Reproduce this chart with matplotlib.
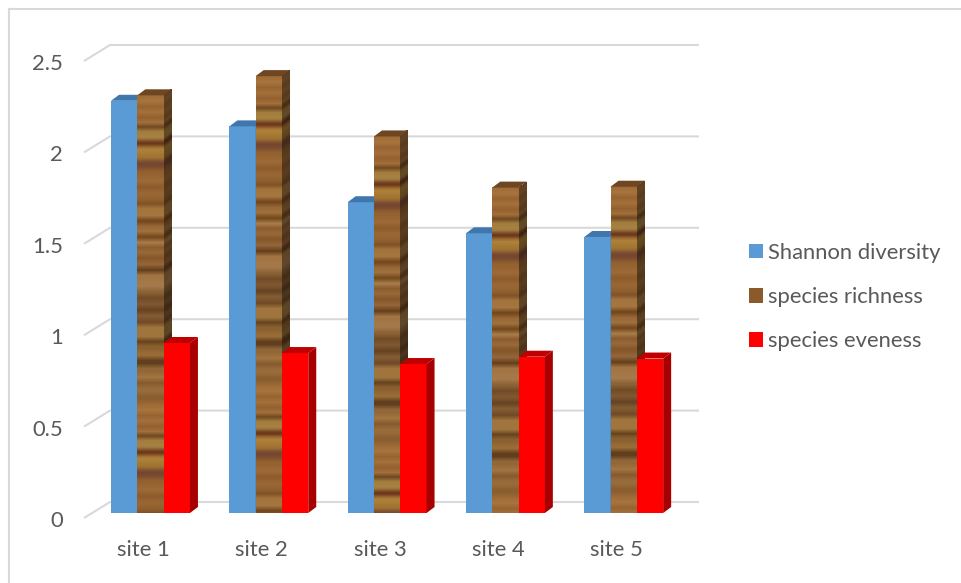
import numpy as np
import matplotlib
matplotlib.use("Agg")
import matplotlib.pyplot as plt
from matplotlib.colors import to_rgb
from matplotlib.lines import Line2D
from matplotlib.patches import Patch, Polygon
from matplotlib.transforms import ScaledTranslation

sites = ["site 1", "site 2", "site 3", "site 4", "site 5"]
shannon_diversity = [2.255, 2.115, 1.70, 1.53, 1.51]
species_richness = [2.285, 2.39, 2.06, 1.78, 1.785]
species_eveness = [0.93, 0.875, 0.815, 0.855, 0.845]
y_ticks = [0, 0.5, 1, 1.5, 2, 2.5]
y_tick_labels = ["0", "0.5", "1", "1.5", "2", "2.5"]

# Wood grain for the richness columns: (colour, thickness in pixels), top to bottom.
WOOD_BANDS = [
    ("#a26c36", 5), ("#ad7840", 6), ("#9a6431", 5), ("#a8733d", 6), ("#95602e", 5), ("#a8733d", 5),
    ("#5f3b18", 4), ("#a8843f", 5), ("#ad8b48", 5), ("#8f6a32", 2), ("#5e2414", 4),
    ("#8a5326", 2), ("#b5893a", 6), ("#a97b34", 6), ("#8a5c30", 2), ("#6e4030", 6), ("#7d4f2c", 3),
    ("#96622f", 7), ("#a06b37", 7), ("#8e5a2b", 6), ("#9c6834", 7), ("#90602e", 5), ("#7a4a22", 4),
    ("#a9793f", 6), ("#ab7b43", 6), ("#6d4219", 6), ("#9a6a38", 5), ("#a47540", 5), ("#704519", 6),
    ("#b08450", 5), ("#8a5a2e", 5), ("#9b6c3a", 5), ("#84552a", 6), ("#94653a", 6), ("#5e3a18", 6),
    ("#a87a48", 8), ("#ab8050", 8), ("#8a6238", 6), ("#6a4724", 6), ("#7a5530", 6), ("#5c3c1e", 6),
    ("#7f5a34", 6), ("#6a4626", 6), ("#a57a40", 14), ("#5a3c18", 5), ("#8a6030", 7), ("#9a7038", 7),
    ("#553518", 8), ("#94693a", 8), ("#a57843", 6), ("#855a2e", 6), ("#9b6f3d", 8), ("#8a5e30", 8),
]
WOOD_MEAN = "#8f6233"

GRID = "#d9d9d9"
TEXT = "#595959"
BLUE = ("#5b9bd5", "#3f76ad", "#3f76ad")
RED = ("#ff0000", "#c00000", "#a80000")

FIG_W, FIG_H = 962, 583
AX_L, AX_R, AX_T, AX_B = 84, 699, 40, 530
BASELINE = 513.0
PX_PER_UNIT_Y = 182.8
PX_PER_SITE = 118.3
BAR_PX = 26.3
DEPTH_X, DEPTH_Y = 8.0, 6.0
GROUP_SHIFT = 7.0
FIRST_SITE_PX = 143.5

ux = 1.0 / PX_PER_SITE
uy = 1.0 / PX_PER_UNIT_Y


def wood_column(height_px):
    """Grain colours, one row per pixel, repeating down a column of the given height."""
    tile = np.vstack([np.tile(to_rgb(c), (n, 1)) for c, n in WOOD_BANDS])
    rows = np.resize(tile, (height_px + 8, 3))
    kernel = np.ones(5) / 5
    soft = np.column_stack([np.convolve(rows[:, k], kernel, mode="same") for k in range(3)])
    mean = np.array(to_rgb(WOOD_MEAN))
    return (mean + 0.78 * (soft - mean))[2:height_px + 2]


def draw_box_faces(ax, left, width, value, side, top, z):
    dx, dy = DEPTH_X * ux, DEPTH_Y * uy
    if side is not None:
        ax.add_patch(Polygon([(left + width, 0), (left + width + dx, dy),
                              (left + width + dx, value + dy), (left + width, value)],
                             closed=True, fc=side, ec="none", zorder=z))
    ax.add_patch(Polygon([(left, value), (left + dx, value + dy),
                          (left + width + dx, value + dy), (left + width, value)],
                         closed=True, fc=top, ec="none", zorder=z))


def draw_wood_bar(ax, left, width, value, z):
    dx, dy = DEPTH_X * ux, DEPTH_Y * uy
    h = int(round(value * PX_PER_UNIT_Y))
    col = wood_column(h)
    edges = np.linspace(value, 0, h + 1)
    ax.imshow(col[:, None, :], extent=(left, left + width, 0, value), aspect="auto",
              origin="upper", interpolation="nearest", zorder=z)
    # Receding side: the same grain, darkened and sheared along the depth direction.
    X = np.column_stack([np.full(h + 1, left + width), np.full(h + 1, left + width + dx)])
    Y = np.column_stack([edges, edges + dy])
    ax.pcolormesh(X, Y, (col * 0.58)[:, None, :], shading="flat", zorder=z, linewidth=0, rasterized=True)
    ax.add_patch(Polygon([(left, value), (left + dx, value + dy),
                          (left + width + dx, value + dy), (left + width, value)],
                         closed=True, fc="#6f4622", ec="none", zorder=z))


fig = plt.figure(figsize=(FIG_W / 100, FIG_H / 100), dpi=100)
plt.rcParams["font.family"] = ["Lato", "DejaVu Sans"]
ax = fig.add_axes([AX_L / FIG_W, 1 - AX_B / FIG_H, (AX_R - AX_L) / FIG_W, (AX_B - AX_T) / FIG_H])

# Outer chart frame: open on the right and at the bottom.
fig.add_artist(Line2D([8.5 / FIG_W, 8.5 / FIG_W], [0, 1 - 8.5 / FIG_H], color=GRID, lw=1.5))
fig.add_artist(Line2D([8.5 / FIG_W, 1], [1 - 8.5 / FIG_H, 1 - 8.5 / FIG_H], color=GRID, lw=1.5))

for v in y_ticks:
    ytr = ax.get_yaxis_transform()
    ax.plot([0, 26 / (AX_R - AX_L), 1], [v - 5 * uy, v + 11 * uy, v + 11 * uy], color=GRID, lw=1.5,
            transform=ytr, zorder=1, solid_capstyle="butt", clip_on=False)

bar_w = BAR_PX * ux
shift = GROUP_SHIFT * ux
positions = np.arange(len(sites))
for i in positions:
    group_left = i + shift - 1.5 * bar_w
    ax.bar(group_left, shannon_diversity[i], bar_w, align="edge", color=BLUE[0], zorder=3, lw=0)
    draw_box_faces(ax, group_left, bar_w, shannon_diversity[i], BLUE[1], BLUE[2], 3)
    draw_wood_bar(ax, group_left + bar_w, bar_w, species_richness[i], 4)
    ax.bar(group_left + 2 * bar_w, species_eveness[i], bar_w, align="edge", color=RED[0], zorder=5, lw=0)
    draw_box_faces(ax, group_left + 2 * bar_w, bar_w, species_eveness[i], RED[2], RED[1], 5)

ax.set_xlim((AX_L - FIRST_SITE_PX) * ux, (AX_R - FIRST_SITE_PX) * ux)
ax.set_ylim((BASELINE - AX_B) * uy, (BASELINE - AX_T) * uy)
for s in ax.spines.values():
    s.set_visible(False)
ax.patch.set_visible(False)
ax.set_xticks(positions, sites)
ax.set_yticks(y_ticks, y_tick_labels)
fs = 15.8
ax.tick_params(axis="both", length=0, labelsize=fs, labelcolor=TEXT)
ax.tick_params(axis="x", pad=7)
ax.tick_params(axis="y", pad=15)
for lab in ax.get_yticklabels():
    lab.set_transform(lab.get_transform() + ScaledTranslation(0, -6 / 100, fig.dpi_scale_trans))

handles = [Patch(fc=BLUE[0], label="Shannon diversity"),
           Patch(fc="#8b5a2b", label="species richness"),
           Patch(fc=RED[0], label="species eveness")]
fs_px = fs * 100 / 72
ax.figure.legend(handles=handles, loc="center left", bbox_to_anchor=(749 / FIG_W, 1 - 297 / FIG_H),
                 frameon=False, fontsize=fs, labelcolor=TEXT, borderpad=0, borderaxespad=0,
                 handlelength=14 / fs_px, handleheight=14 / fs_px, handletextpad=5 / fs_px,
                 labelspacing=(45 - 20.8) / fs_px)

fig.savefig("out.png", dpi=100, facecolor="white")
